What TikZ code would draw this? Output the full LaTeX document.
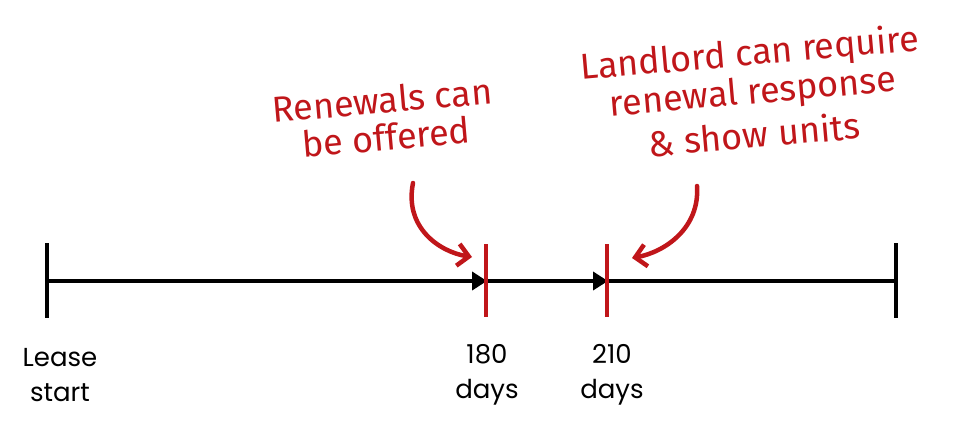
\documentclass[tikz,border=0pt]{standalone}
\usepackage{fontspec}
\setmainfont{Poppins}
\newfontfamily\handfont{Fira Sans}
\usetikzlibrary{arrows.meta}
\definecolor{hred}{HTML}{C0161A}
\tikzset{
  axis/.style={line width=4.5pt, black},
  endtick/.style={line width=4pt, black},
  redtick/.style={line width=3.2pt, hred},
  ticklabel/.style={align=center, font=\fontsize{26}{35}\selectfont, text=black, inner sep=0pt},
  note/.style={font=\handfont\fontsize{36}{40}\selectfont, text=hred, rotate=5, inner sep=0pt},
  callout/.style={hred, line width=4.5pt, line cap=round, -{Straight Barb[length=11pt,width=22pt,line width=4.5pt]}},
  mainarrow/.style={axis, -{Triangle[length=15pt,width=18pt]}}
}
\begin{document}
\begin{tikzpicture}[x=1pt,y=-1pt]
\useasboundingbox (0,0) rectangle (958,426);
% ticks
\coordinate (s) at (47,281);
\coordinate (e) at (896,281);
\coordinate (a) at (486,281);
\coordinate (b) at (607,281);
\draw[endtick] (47,243) -- (47,318);
\draw[endtick] (896,243) -- (896,318);
% axis
\draw[mainarrow] (s) -- ([xshift=1pt]a);
\draw[mainarrow] (a) -- ([xshift=1pt]b);
\draw[axis] (b) -- (e);
% red ticks
\draw[redtick] (486,244) -- (486,317);
\draw[redtick] (607,244) -- (607,317);
% labels
\node[ticklabel] (l1) at (60,375) {Lease\\start};
\node[ticklabel] (l2) at (487,375) {180\\days};
\node[ticklabel] (l3) at (612,375) {210\\days};
% notes
\node[note] (n1a) at (382,100) {Renewals can};
\node[note] (n1b) at (386,137) {be offered};
\node[note] (n2a) at (750,55) {Landlord can require};
\node[note] (n2b) at (753,94) {renewal response};
\node[note] (n2c) at (754,134) {\& show units};
\coordinate (c1s) at (413,183);
\coordinate (c1e) at (472,257);
\coordinate (c2s) at (697,186);
\coordinate (c2e) at (632,258);
\draw[callout] (c1s) .. controls (404,228) and (440,252) .. (c1e);
\draw[callout] (c2s) .. controls (700,228) and (665,252) .. (c2e);
\end{tikzpicture}
\end{document}
